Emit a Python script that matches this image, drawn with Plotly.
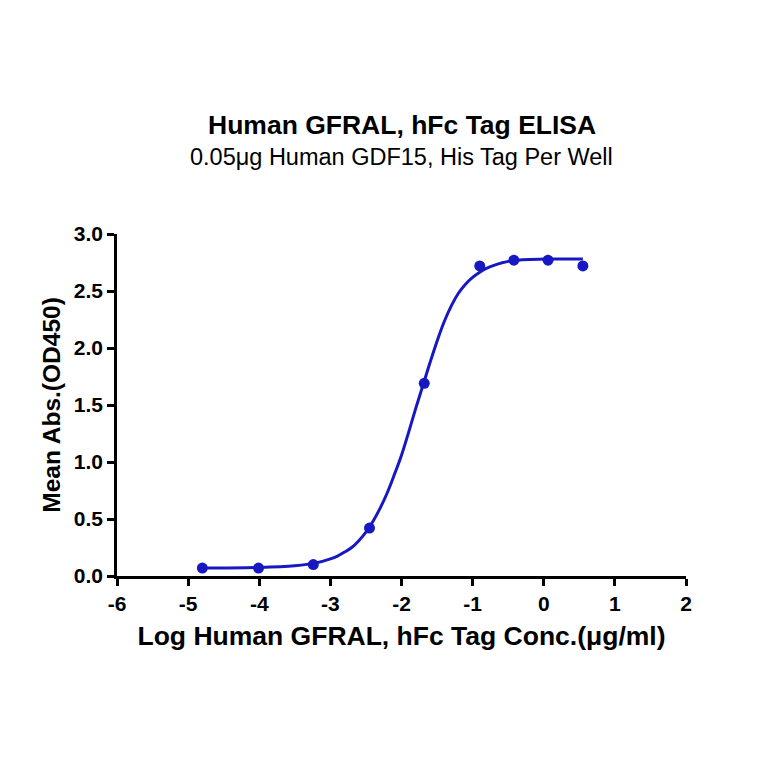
import plotly.graph_objects as go

# Measured points
log_conc = [-4.80, -4.01, -3.24, -2.45, -1.68, -0.90, -0.42, 0.06, 0.55]
mean_abs = [0.07, 0.07, 0.10, 0.42, 1.69, 2.72, 2.77, 2.77, 2.72]

# Fitted curve
curve_x = [-4.80, -4.0, -3.5, -3.2, -3.0, -2.9, -2.8, -2.7, -2.6, -2.5, -2.4, -2.3, -2.2,
           -2.1, -2.0, -1.9, -1.8, -1.7, -1.6, -1.5, -1.4, -1.3, -1.2, -1.1, -1.0,
           -0.9, -0.8, -0.7, -0.6, -0.5, -0.3, 0.0, 0.55]
curve_y = [0.07, 0.075, 0.09, 0.115, 0.15, 0.175, 0.21, 0.25, 0.31, 0.385, 0.48, 0.595, 0.73,
           0.89, 1.06, 1.26, 1.47, 1.67, 1.87, 2.06, 2.23, 2.37, 2.48, 2.56, 2.62,
           2.665, 2.70, 2.725, 2.745, 2.76, 2.775, 2.78, 2.78]

x_ticks = [-6, -5, -4, -3, -2, -1, 0, 1, 2]
y_ticks = [0.0, 0.5, 1.0, 1.5, 2.0, 2.5, 3.0]
y_tick_labels = ["0.0", "0.5", "1.0", "1.5", "2.0", "2.5", "3.0"]

title = "Human GFRAL, hFc Tag ELISA"
subtitle = "0.05μg Human GDF15, His Tag Per Well"
x_title = "Log Human GFRAL, hFc Tag Conc.(μg/ml)"
y_title = "Mean Abs.(OD450)"

BLUE = "#1818c2"
FONT = "Liberation Sans, Arial, sans-serif"

W = H = 764
M_L, M_R, M_T, M_B = 109, 86, 226, 196

fig = go.Figure()
fig.add_trace(go.Scatter(x=curve_x, y=curve_y, mode="lines",
                         line=dict(color=BLUE, width=3, shape="spline", smoothing=1.0),
                         hoverinfo="skip", showlegend=False))
fig.add_trace(go.Scatter(x=log_conc, y=mean_abs, mode="markers",
                         marker=dict(color=BLUE, size=11), showlegend=False))

plot_h = H - M_T - M_B


def paper_y(px):
    return (H - px - M_B) / plot_h


fig.update_layout(
    width=W, height=H,
    paper_bgcolor="white", plot_bgcolor="white",
    margin=dict(l=M_L, r=M_R, t=M_T, b=M_B),
    font=dict(family=FONT, color="black"),
    annotations=[
        dict(text="<b>" + title + "</b>", x=0.5, y=paper_y(117), xref="paper", yref="paper",
             xanchor="center", yanchor="middle", showarrow=False, font=dict(size=26.5)),
        dict(text=subtitle, x=0.5, y=paper_y(149), xref="paper", yref="paper",
             xanchor="center", yanchor="middle", showarrow=False, font=dict(size=23.5)),
    ],
)

fig.update_xaxes(
    range=[-6, 2], tickvals=x_ticks, ticktext=[str(v) for v in x_ticks],
    showline=True, linecolor="black", linewidth=2.5,
    ticks="outside", ticklen=7, tickwidth=2.5, tickcolor="black",
    showgrid=False, zeroline=False, automargin=False,
    tickfont=dict(size=21, family=FONT, weight="bold"),
    title=dict(text="<b>" + x_title + "</b>", font=dict(size=26.5), standoff=13),
)
fig.update_yaxes(
    range=[0, 3.0], tickvals=y_ticks, ticktext=y_tick_labels,
    showline=True, linecolor="black", linewidth=2.5,
    ticks="outside", ticklen=7, tickwidth=2.5, tickcolor="black",
    showgrid=False, zeroline=False, automargin=False,
    tickfont=dict(size=21, family=FONT, weight="bold"),
    title=dict(text="<b>" + y_title + "</b>", font=dict(size=24.5), standoff=7),
)

fig.write_html("out.html")
